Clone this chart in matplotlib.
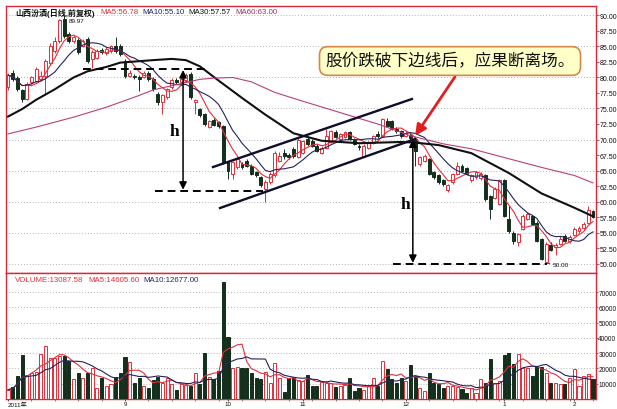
import matplotlib
matplotlib.use('Agg')
import matplotlib.pyplot as plt
import numpy as np
import pandas as pd

plt.rcParams['font.family'] = ['Liberation Sans', 'Noto Sans CJK SC', 'DejaVu Sans']

# ---------------- data ----------------
opens = [78.4, 80.8, 79.9, 78.0, 76.6, 79.2, 79.5, 79.8, 80.3, 82.4,
         84.3, 85.9, 89.4, 87.0, 85.9, 86.0, 85.1, 86.2, 83.0, 83.2,
         84.5, 83.9, 84.2, 85.0, 85.0, 82.7, 80.3, 80.3, 80.1, 80.1,
         80.8, 79.8, 77.3, 76.0, 76.8, 78.4, 79.6, 79.2, 79.6, 80.6,
         76.0, 74.9, 74.1, 72.0, 73.2, 72.8, 72.2, 66.3, 64.4, 65.5,
         66.1, 66.5, 65.8, 64.7, 63.9, 62.0, 63.1, 64.2, 66.6, 67.9,
         67.5, 68.5, 67.2, 67.9, 70.1, 69.8, 69.0, 67.9, 68.7, 69.6,
         71.2, 70.1, 70.4, 71.2, 69.9, 69.0, 67.4, 68.7, 69.5, 70.9,
         70.6, 73.0, 73.0, 71.7, 71.4, 70.6, 70.8, 70.1, 66.0, 66.6,
         66.9, 64.7, 64.2, 63.4, 61.8, 63.1, 64.4, 65.8, 65.4, 63.4,
         63.9, 63.8, 64.2, 60.9, 60.6, 59.6, 63.4, 57.2, 55.0, 53.4,
         55.6, 57.2, 57.7, 56.6, 53.9, 50.3, 53.0, 52.6, 53.2, 54.5,
         53.6, 54.6, 55.2, 55.8, 56.6, 58.4]
highs = [80.8, 81.2, 80.2, 78.2, 79.2, 80.3, 81.7, 81.0, 83.0, 85.5,
         86.6, 89.5, 89.97, 87.4, 86.9, 86.3, 86.2, 86.6, 84.4, 84.6,
         84.7, 84.9, 85.3, 86.5, 85.4, 83.0, 81.2, 80.6, 80.4, 81.1,
         81.0, 80.0, 77.6, 77.3, 78.3, 79.9, 79.9, 80.0, 80.8, 80.9,
         76.5, 75.1, 74.3, 73.2, 73.5, 73.0, 72.4, 66.6, 66.5, 67.2,
         66.4, 66.9, 66.0, 64.9, 64.1, 63.4, 64.7, 68.2, 68.0, 68.4,
         67.8, 68.8, 70.3, 70.0, 70.4, 70.1, 69.3, 68.9, 71.7, 71.6,
         71.5, 71.1, 71.4, 71.4, 70.2, 69.2, 69.2, 69.7, 70.8, 71.3,
         73.5, 73.4, 73.2, 72.0, 71.6, 71.3, 71.0, 70.3, 67.4, 67.7,
         67.0, 64.9, 64.4, 63.6, 62.9, 64.6, 66.3, 66.0, 65.6, 64.5,
         65.0, 64.7, 64.4, 61.0, 62.3, 63.6, 63.6, 59.3, 55.2, 55.0,
         58.0, 58.3, 57.9, 56.8, 54.1, 53.4, 53.4, 53.3, 54.4, 54.8,
         54.6, 55.9, 56.1, 56.7, 59.3, 58.6]
lows = [78.0, 79.4, 77.8, 76.1, 76.4, 78.9, 79.3, 79.4, 77.1, 82.0,
        84.0, 85.5, 86.4, 85.6, 85.5, 83.8, 84.9, 82.4, 81.6, 83.0,
        83.8, 83.6, 83.9, 84.0, 83.5, 79.9, 80.0, 79.7, 77.9, 79.9,
        79.5, 77.8, 75.5, 74.1, 76.6, 78.2, 79.0, 79.0, 79.4, 76.5,
        74.1, 73.6, 72.2, 71.8, 72.2, 71.9, 66.0, 63.6, 63.6, 65.3,
        65.2, 65.5, 64.2, 63.9, 62.3, 59.9, 62.9, 64.0, 66.4, 66.8,
        66.9, 67.0, 67.0, 67.7, 69.0, 68.8, 68.0, 67.6, 68.5, 69.4,
        70.2, 69.9, 70.2, 69.9, 69.1, 68.3, 67.2, 68.5, 69.3, 70.2,
        70.4, 72.0, 71.5, 71.1, 70.3, 70.4, 70.0, 65.8, 65.8, 66.3,
        64.2, 63.6, 62.9, 62.5, 61.5, 62.9, 64.2, 64.8, 64.2, 63.2,
        63.7, 63.5, 60.1, 57.2, 60.4, 59.4, 57.5, 55.0, 53.1, 52.9,
        55.4, 57.0, 56.2, 53.5, 50.5, 50.0, 52.0, 51.3, 53.0, 53.4,
        53.3, 54.4, 55.0, 55.6, 56.4, 57.3]
closes = [80.4, 79.8, 78.1, 76.5, 79.0, 80.0, 81.4, 80.3, 82.7, 85.1,
          85.9, 89.2, 86.7, 85.9, 86.5, 84.1, 85.9, 82.7, 84.1, 84.2,
          84.1, 84.6, 85.0, 84.3, 83.8, 80.3, 80.8, 80.0, 79.8, 80.8,
          79.8, 78.1, 76.0, 77.1, 78.1, 79.6, 79.2, 79.7, 80.4, 76.8,
          76.3, 73.9, 72.5, 73.0, 72.4, 72.2, 66.3, 65.0, 66.3, 66.9,
          65.5, 65.8, 64.4, 64.2, 62.6, 63.1, 64.4, 67.9, 67.4, 67.4,
          67.1, 67.4, 70.0, 69.8, 69.3, 69.0, 68.2, 68.7, 70.6, 71.4,
          70.4, 70.9, 71.2, 70.1, 69.3, 68.8, 69.0, 69.5, 70.6, 70.5,
          73.3, 72.2, 71.7, 71.4, 70.6, 71.1, 70.2, 68.2, 67.2, 67.4,
          64.4, 63.9, 63.1, 62.8, 62.6, 64.4, 65.8, 65.0, 64.4, 64.2,
          64.7, 64.4, 60.4, 58.8, 62.0, 63.4, 57.7, 55.3, 53.7, 54.8,
          57.7, 58.0, 56.4, 53.7, 50.7, 53.1, 52.2, 53.0, 54.0, 53.6,
          54.3, 55.6, 55.8, 56.4, 58.6, 57.5]
volumes = [6000, 7900, 15000, 28600, 15700, 17200, 17900, 29200, 34500, 26600,
           27000, 28100, 28100, 24900, 13300, 17200, 14000, 17000, 20500, 7400,
           13500, 8500, 9600, 14400, 17200, 27500, 24400, 10700, 14000, 8500,
           7000, 12400, 14600, 10700, 14000, 9600, 5900, 9600, 9200, 8500,
           17200, 9600, 30300, 14400, 13300, 18300, 76800, 40600, 20500, 21000,
           20500, 20000, 17200, 14000, 12900, 17900, 10700, 23800, 14000, 4600,
           13500, 14000, 12400, 12000, 16000, 8500, 8500, 11300, 10700, 10700,
           7900, 8500, 9200, 13500, 5200, 7000, 5700, 8500, 14000, 8500,
           24900, 19400, 13300, 10700, 13500, 11800, 22000, 15000, 7000, 5200,
           17000, 10700, 10000, 7400, 8500, 8500, 8000, 6300, 4100, 7000,
           4100, 13300, 10700, 26000, 10700, 11800, 28800, 29900, 22700, 29700,
           20500, 20000, 15000, 21600, 21000, 17200, 10300, 10300, 10000, 9600,
           13600, 19900, 8500, 15000, 16500, 13087.58]

ma30_idx = [0, 3, 6, 10, 14, 17, 21, 24, 31, 35, 38, 41, 45, 50, 55, 61, 67,
            75, 84, 87, 92, 99, 102, 107, 114, 121, 125]
ma30_val = [73.7, 74.9, 76.4, 78.1, 80.0, 81.0, 81.7, 82.4, 82.8, 83.0, 82.8,
            81.8, 79.5, 76.7, 74.0, 71.0, 69.8, 69.4, 69.6, 69.5, 69.1, 67.8,
            66.6, 64.6, 61.3, 59.0, 57.6]
ma60_idx = [0, 6, 14, 21, 28, 31, 41, 44, 48, 52, 57, 62, 72, 79, 86, 93, 99,
            107, 114, 121, 125]
ma60_val = [70.9, 72.0, 73.6, 75.2, 77.1, 78.0, 79.7, 79.9, 80.0, 79.3, 77.6,
            76.4, 74.1, 72.5, 70.6, 69.3, 68.5, 66.9, 65.5, 64.2, 63.0]

month_ticks = [0, 25, 47, 63, 85, 106, 121]
month_labels = ['2011年', '9', '10', '11', '12', '1', '2']

# hand-drawn annotation geometry (trading-day index, price)
dash_levels = [(81.4, 16.0, 42.7), (61.7, 31.4, 54.5), (50.0, 82.3, 115.2)]
h_arrows = [(37.4, 81.2, 61.9), (86.5, 70.0, 50.1)]
h_labels = [(35.5, 71.3), (85.0, 59.6)]
channel_upper = [(43.8, 65.56), (86.3, 76.53)]
channel_lower = [(45.3, 58.95), (87.0, 70.08)]
red_arrow = [(95.5, 80.1), (87.0, 70.6)]

# ---------------- figure ----------------
W, H = 617, 410
fig = plt.figure(figsize=(W / 100, H / 100), dpi=100)
fig.patch.set_facecolor('white')


def rect(l, t, r, b):
    return [l / W, 1 - b / H, (r - l) / W, (b - t) / H]


ax = fig.add_axes(rect(6, 7, 595.5, 274))
axv = fig.add_axes(rect(6, 274, 595.5, 400))

RED = '#e0303c'
DARK = '#14301d'
NAVY = '#23235e'
MAG = '#b8407a'
FRAME = '#d42a3a'

n = len(closes)
x = np.arange(n)
o = np.array(opens); c = np.array(closes)
hi = np.array(highs); lo = np.array(lows)
up = c >= o
edge = np.where(up, RED, DARK)
face = np.where(up, 'white', DARK)

# grid
for lvl in np.arange(50, 90.01, 5):
    ax.axhline(lvl, color='#9a9a9a', lw=0.6, ls=(0, (1, 2.5)), zorder=0)
for lvl in range(10000, 70001, 10000):
    axv.axhline(lvl, color='#9a9a9a', lw=0.6, ls=(0, (1, 2.5)), zorder=0)

# candles
ax.vlines(x, lo, hi, colors=edge, lw=0.7, zorder=2)
ax.bar(x, np.maximum(np.abs(c - o), 0.07), bottom=np.minimum(o, c), width=0.62,
       color=face, edgecolor=edge, linewidth=0.7, zorder=3)

cs = pd.Series(closes)
ax.plot(x, cs.rolling(5, min_periods=1).mean(), color=RED, lw=0.8, zorder=4)
ax.plot(x, cs.rolling(10, min_periods=1).mean(), color=NAVY, lw=0.8, zorder=4)
ax.plot(ma30_idx, ma30_val, color='#111111', lw=1.5, zorder=4)
ax.plot(ma60_idx, ma60_val, color=MAG, lw=0.8, zorder=4)

# annotations
for lvl, a, b in dash_levels:
    ax.plot([a, b], [lvl, lvl], color='black', lw=1.4, ls=(0, (4, 2.5)), zorder=5)
for xi, top, bot in h_arrows:
    ax.annotate('', xy=(xi, bot), xytext=(xi, top),
                arrowprops=dict(arrowstyle='<|-|>', color='black', lw=1.1,
                                mutation_scale=11, shrinkA=0, shrinkB=0), zorder=6)
for xi, yi in h_labels:
    ax.text(xi, yi, 'h', fontsize=12.5, family='Liberation Serif', fontweight='bold',
            ha='center', va='center', zorder=6)
for line in (channel_upper, channel_lower):
    ax.plot([p[0] for p in line], [p[1] for p in line], color='#0e0e2a', lw=1.7, zorder=5)
ax.annotate('', xy=red_arrow[1], xytext=red_arrow[0],
            arrowprops=dict(arrowstyle='-|>', color='#e02020', lw=2.0,
                            mutation_scale=16, shrinkA=0, shrinkB=0), zorder=7)

imax = int(np.argmax(hi)); imin = int(np.argmin(lo))
ax.annotate(f'{hi[imax]:.2f}', xy=(imax, hi[imax]), xytext=(imax + 0.9, hi[imax] - 0.75),
            fontsize=4.6, ha='left', va='center', color='#111111',
            arrowprops=dict(arrowstyle='-', lw=0.5, color='#111111', shrinkA=0, shrinkB=0))
ax.annotate(f'{lo[imin]:.2f}', xy=(imin, lo[imin]), xytext=(imin + 1.4, lo[imin] - 0.1),
            fontsize=4.6, ha='left', va='center', color='#111111',
            arrowprops=dict(arrowstyle='-', lw=0.5, color='#111111', shrinkA=0, shrinkB=0))

# volume
axv.bar(x, volumes, width=0.66, color=face, edgecolor=edge, linewidth=0.7, zorder=3)
vs = pd.Series(volumes)
axv.plot(x, vs.rolling(5, min_periods=1).mean(), color=RED, lw=0.8, zorder=4)
axv.plot(x, vs.rolling(10, min_periods=1).mean(), color=NAVY, lw=0.8, zorder=4)

# axes styling
for a in (ax, axv):
    a.set_xlim(-0.43, 125.53)
    a.set_facecolor('white')
    for s in a.spines.values():
        s.set_color(FRAME)
        s.set_linewidth(1.0)
    a.yaxis.tick_right()

ax.tick_params(axis='y', labelsize=5.0, length=2, width=0.6, color=FRAME,
               pad=1, labelcolor='#111111')
axv.tick_params(axis='y', labelsize=4.7, length=1.5, width=0.6, color=FRAME,
                pad=0.5, labelcolor='#111111')

ax.set_ylim(48.47, 91.53)
ax.set_yticks(np.arange(50, 90.01, 2.5))
ax.set_yticklabels([f'{v:.2f}' for v in np.arange(50, 90.01, 2.5)])
ax.tick_params(axis='x', bottom=False, labelbottom=False)

axv.set_ylim(0, 82460)
axv.set_yticks(range(10000, 70001, 10000))
axv.set_yticklabels([str(v) for v in range(10000, 70001, 10000)])
axv.set_xticks(month_ticks)
axv.set_xticklabels(month_labels)
axv.set_xticks(np.arange(0, n, 5), minor=True)
axv.tick_params(axis='x', which='major', labelsize=4.5, length=1.5, width=0.6,
                color='#333333', pad=0.3, labelcolor='#111111')
axv.tick_params(axis='x', which='minor', length=1.2, width=0.5, color='#555555')
axv.get_xticklabels()[0].set_horizontalalignment('left')

# header texts
def ftext(px, py, s, color, size=5.7, weight='normal', **kw):
    fig.text(px / W, 1 - py / H, s, color=color, fontsize=size, fontweight=weight,
             ha='left', va='center', **kw)

ftext(15, 13, '山西汾酒(日线,前复权)', '#111111', 5.8, 'bold')
ftext(100, 13, 'MA5:56.78', RED)
ftext(142, 13, 'MA10:55.10', NAVY)
ftext(188, 13, 'MA30:57.57', '#111111')
ftext(235, 13, 'MA60:63.00', '#a0306a')
ftext(15, 281, 'VOLUME:13087.58', RED)
ftext(88, 281, 'MA5:14605.60', RED)
ftext(143, 281, 'MA10:12677.00', NAVY)

fig.text(450 / W, 1 - 62 / H, '股价跌破下边线后，应果断离场。', fontsize=12,
         ha='center', va='center', color='#111111',
         family=['Noto Sans CJK SC', 'DejaVu Sans'],
         bbox=dict(boxstyle='round,pad=0.35,rounding_size=0.5', fc='#ffffc8',
                   ec='#d4884a', lw=1.2))

fig.savefig('out.png', dpi=100)
